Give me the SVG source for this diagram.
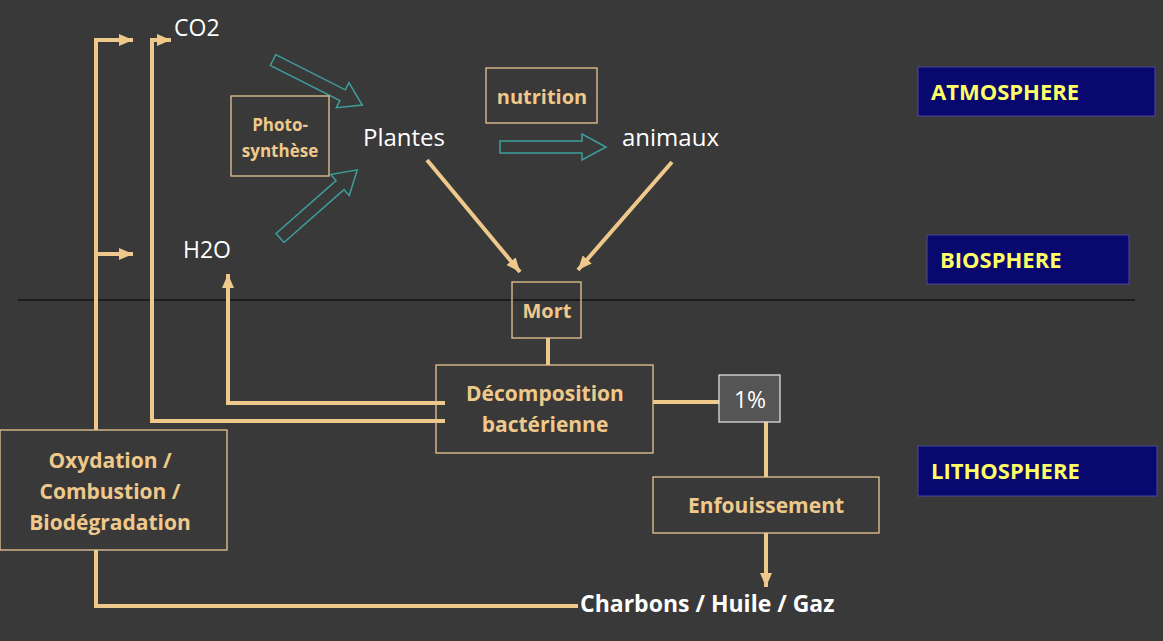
<svg xmlns="http://www.w3.org/2000/svg" width="1163" height="641" viewBox="0 0 1163 641">
<style>
.ln{stroke:#efc98c;stroke-width:4;fill:none}
.bx{fill:none;stroke:#e6c592;stroke-width:1.3}
.tb{font-family:"Open Sans","Liberation Sans",sans-serif;font-weight:bold;fill:#efc98c;text-anchor:middle}
.tw{font-family:"Open Sans","Liberation Sans",sans-serif;fill:#ffffff}
.sp{fill:#08086e;stroke:#4a4a9a;stroke-width:1}
.st{font-family:"Open Sans","Liberation Sans",sans-serif;font-weight:bold;fill:#ffff66;font-size:22px}
.ta{fill:none;stroke:#3d9e9a;stroke-width:1.5}
</style>
<defs>
<marker id="ah2" markerWidth="14" markerHeight="12" refX="14" refY="6" orient="auto" markerUnits="userSpaceOnUse" viewBox="0 0 14 12"><path d="M0,0 L14,6 L0,12 z" fill="#efc98c"/></marker>
</defs>
<rect width="1163" height="641" fill="#393939"/>
<line x1="18" y1="300" x2="1135" y2="300" stroke="#000" stroke-width="1.2"/>
<g id="connectors">
<path class="ln" d="M96,430 V40 H133" marker-end="url(#ah2)"/>
<path class="ln" d="M96,254 H133" marker-end="url(#ah2)"/>
<path class="ln" d="M445,421 H152 V40 H171" marker-end="url(#ah2)"/>
<path class="ln" d="M445,403 H228 V274" marker-end="url(#ah2)"/>
<path class="ln" d="M548,338 V365"/>
<path class="ln" d="M653,402 H719"/>
<path class="ln" d="M766,422 V477"/>
<path class="ln" d="M766,533 V587" marker-end="url(#ah2)"/>
<path class="ln" d="M96,550 V606 H578"/>
<path class="ln" d="M427,160 L520,272" marker-end="url(#ah2)"/>
<path class="ln" d="M672,162 L578,270" marker-end="url(#ah2)"/>
<g transform="translate(273,60) rotate(26.8)"><path class="ta" d="M0,-6 H78 V-14 L100,0 L78,14 V6 H0 Z"/></g>
<g transform="translate(280,238) rotate(-41.4)"><path class="ta" d="M0,-6 H80 V-14 L103,0 L80,14 V6 H0 Z"/></g>
<g transform="translate(500,147)"><path class="ta" d="M0,-6 H82 V-13 L106,0 L82,13 V6 H0 Z"/></g>
</g>
<g id="co2"><text class="tw" x="174" y="36" font-size="23">CO2</text></g>
<g id="h2o"><text class="tw" x="183" y="258" font-size="23">H2O</text></g>
<g id="plantes"><text class="tw" x="363" y="146" font-size="24">Plantes</text></g>
<g id="animaux"><text class="tw" x="622" y="146" font-size="24">animaux</text></g>
<g id="photo"><rect class="bx" x="231" y="96" width="98" height="80"/><text class="tb" font-size="17"><tspan x="280" y="131">Photo-</tspan><tspan x="280" y="157">synthèse</tspan></text></g>
<g id="nutrition"><rect class="bx" x="486" y="68" width="111" height="55"/><text class="tb" x="542" y="104" font-size="20">nutrition</text></g>
<g id="mort"><rect class="bx" x="512" y="282" width="69" height="56"/><text class="tb" x="547" y="318" font-size="20">Mort</text></g>
<g id="decomp"><rect class="bx" x="436" y="365" width="217" height="88"/><text class="tb" font-size="21"><tspan x="545" y="401">Décomposition</tspan><tspan x="545" y="432">bactérienne</tspan></text></g>
<g id="pct"><rect x="719" y="375" width="61" height="47" fill="#555" stroke="#ddd" stroke-width="1.3"/><text class="tw" x="750" y="408" font-size="23" text-anchor="middle">1%</text></g>
<g id="enfouissement"><rect class="bx" x="653" y="477" width="226" height="56"/><text class="tb" x="766" y="513" font-size="21">Enfouissement</text></g>
<g id="oxydation"><rect class="bx" x="0" y="430" width="227" height="120"/><text class="tb" font-size="21"><tspan x="110" y="468">Oxydation /</tspan><tspan x="110" y="499">Combustion /</tspan><tspan x="110" y="530">Biodégradation</tspan></text></g>
<g id="charbons"><text class="tw" x="580" y="612" font-size="23" font-weight="bold">Charbons / Huile / Gaz</text></g>
<g id="atmosphere"><rect class="sp" x="918" y="67" width="237" height="49"/><text class="st" x="931" y="100">ATMOSPHERE</text></g>
<g id="biosphere"><rect class="sp" x="927" y="235" width="202" height="49"/><text class="st" x="940" y="268">BIOSPHERE</text></g>
<g id="lithosphere"><rect class="sp" x="918" y="446" width="239" height="50"/><text class="st" x="931" y="479">LITHOSPHERE</text></g>
</svg>
